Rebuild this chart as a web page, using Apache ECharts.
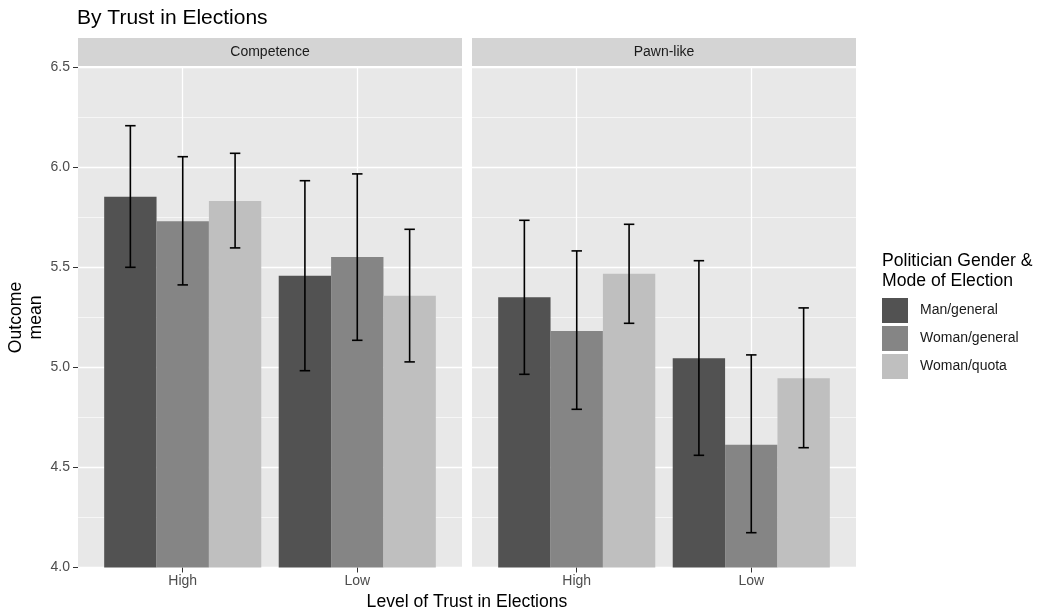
<!DOCTYPE html>
<html><head><meta charset="utf-8">
<script src="https://cdn.jsdelivr.net/npm/echarts@6/dist/echarts.min.js"></script>
<style>html,body{margin:0;padding:0;background:#fff}#c{width:1041px;height:610px}</style>
</head><body><div id="c"></div>
<script>
// ---- data ----
const facets = ['Competence', 'Pawn-like'];
const categories = ['High', 'Low'];
const groups = ['Man/general', 'Woman/general', 'Woman/quota'];
const yRange = [4.0, 6.5];
// [group][category]
const competenceMean  = [[5.854, 5.459], [5.731, 5.553], [5.833, 5.359]];
const competenceLower = [[5.501, 4.984], [5.413, 5.136], [5.598, 5.028]];
const competenceUpper = [[6.209, 5.934], [6.054, 5.968], [6.071, 5.691]];
const pawnMean  = [[5.351, 5.046], [5.183, 4.614], [5.469, 4.946]];
const pawnLower = [[4.966, 4.561], [4.791, 4.174], [5.221, 4.599]];
const pawnUpper = [[5.736, 5.534], [5.583, 5.063], [5.716, 5.298]];

const fills = ['#525252', '#858585', '#BFBFBF'];
const facetData = [
  {mean: competenceMean, lower: competenceLower, upper: competenceUpper},
  {mean: pawnMean, lower: pawnLower, upper: pawnUpper}
];

// ---- layout ----
const FONT = 'Liberation Sans, Arial, sans-serif';
const panelLefts = [78, 472];
const panelWidth = 384;
const panelTop = 67.5;
const panelHeight = 500;
const stripHeight = 28;
const DODGE = 0.3, HALF_BAR = 0.15, HALF_CAP = 0.03;

const grids = panelLefts.map(l => ({
  left: l, top: panelTop, width: panelWidth, height: panelHeight,
  show: true, backgroundColor: '#E8E8E8', borderWidth: 0, containLabel: false
}));

const xAxes = panelLefts.map((l, i) => ({
  type: 'value', gridIndex: i, min: 0.4, max: 2.6,
  axisLine: {show: false},
  axisTick: {show: true, customValues: [1, 2], length: 5, lineStyle: {color: '#333333', width: 1}},
  axisLabel: {customValues: [1, 2], formatter: v => categories[Math.round(v) - 1] || '',
    color: '#4D4D4D', fontSize: 14, margin: 7, fontFamily: FONT},
  splitLine: {show: true, lineStyle: {color: '#FFFFFF', width: 1.3}}
}));

const yAxes = panelLefts.map((l, i) => ({
  type: 'value', gridIndex: i, min: yRange[0], max: yRange[1], interval: 0.5,
  axisLine: {show: false},
  axisTick: {show: i === 0, length: 5, lineStyle: {color: '#333333', width: 1}},
  axisLabel: {show: i === 0, formatter: v => v.toFixed(1), color: '#4D4D4D', fontSize: 14, margin: 8,
    fontFamily: FONT},
  splitLine: {show: true, lineStyle: {color: '#FFFFFF', width: 1.3}},
  minorTick: {show: false, splitNumber: 2},
  minorSplitLine: {show: true, lineStyle: {color: '#FFFFFF', width: 0.6}},
  name: i === 0 ? 'Outcome\nmean' : '',
  nameLocation: 'middle', nameRotate: 90, nameGap: 32,
  nameTextStyle: {fontSize: 17.6, color: '#000', lineHeight: 20, fontFamily: FONT}
}));

const series = [];
facetData.forEach((fd, f) => {
  groups.forEach((gname, g) => {
    series.push({
      type: 'custom', name: gname, xAxisIndex: f, yAxisIndex: f,
      itemStyle: {color: fills[g]},
      data: categories.map((c, ci) => [ci + 1, fd.mean[g][ci], fd.lower[g][ci], fd.upper[g][ci]]),
      renderItem: (params, api) => {
        const xc = api.value(0) + (g - 1) * DODGE;
        const top = api.coord([xc - HALF_BAR, api.value(1)]);
        const base = api.coord([xc + HALF_BAR, yRange[0]]);
        const up = api.coord([xc, api.value(3)]);
        const lo = api.coord([xc, api.value(2)]);
        const capL = api.coord([xc - HALF_CAP, api.value(3)]);
        const capR = api.coord([xc + HALF_CAP, api.value(3)]);
        const capL2 = api.coord([xc - HALF_CAP, api.value(2)]);
        const capR2 = api.coord([xc + HALF_CAP, api.value(2)]);
        const ls = {stroke: '#000', lineWidth: 1.6};
        return {
          type: 'group',
          children: [
            {type: 'rect', shape: {x: top[0], y: top[1], width: base[0] - top[0], height: base[1] - top[1]},
             style: {fill: fills[g]}},
            {type: 'line', z2: 10, shape: {x1: up[0], y1: up[1], x2: lo[0], y2: lo[1]}, style: ls},
            {type: 'line', z2: 10, shape: {x1: capL[0], y1: capL[1], x2: capR[0], y2: capR[1]}, style: ls},
            {type: 'line', z2: 10, shape: {x1: capL2[0], y1: capL2[1], x2: capR2[0], y2: capR2[1]}, style: ls}
          ]
        };
      }
    });
  });
});

const stripGraphics = [];
panelLefts.forEach((l, i) => {
  stripGraphics.push({
    type: 'rect', left: l, top: panelTop - 1.5 - stripHeight,
    shape: {width: panelWidth, height: stripHeight}, style: {fill: '#D4D4D4'}, silent: true
  });
  stripGraphics.push({
    type: 'text', x: l + panelWidth / 2, y: panelTop - 1.5 - stripHeight / 2,
    style: {text: facets[i], fill: '#1A1A1A', fontSize: 14, align: 'center', verticalAlign: 'middle',
      fontFamily: FONT}, silent: true
  });
});

const chart = echarts.init(document.getElementById('c'), null, {renderer: 'canvas'});
chart.setOption({
  backgroundColor: '#FFFFFF',
  animation: false,
  textStyle: {fontFamily: FONT},
  title: [
    {text: 'By Trust in Elections', left: 77, top: 8, padding: 0,
     textStyle: {fontSize: 21, fontWeight: 'normal', color: '#000', fontFamily: FONT}},
    {text: 'Politician Gender &\nMode of Election', left: 882, top: 251, padding: 0,
     textStyle: {fontSize: 17.6, fontWeight: 'normal', color: '#000', lineHeight: 20, fontFamily: FONT}},
    {text: 'Level of Trust in Elections', left: panelLefts[0] + (panelLefts[1] + panelWidth - panelLefts[0]) / 2, textAlign: 'center', top: 593, padding: 0,
     textStyle: {fontSize: 17.6, fontWeight: 'normal', color: '#000', fontFamily: FONT}}
  ],
  legend: {
    orient: 'vertical', left: 882, top: 298, itemWidth: 26, itemHeight: 25, itemGap: 3,
    icon: 'rect', data: groups, selectedMode: false, padding: 0,
    textStyle: {fontSize: 14, color: '#1A1A1A', padding: [0, 0, 0, 7], fontFamily: FONT}
  },
  grid: grids,
  xAxis: xAxes,
  yAxis: yAxes,
  graphic: stripGraphics,
  series: series
});
</script></body></html>
